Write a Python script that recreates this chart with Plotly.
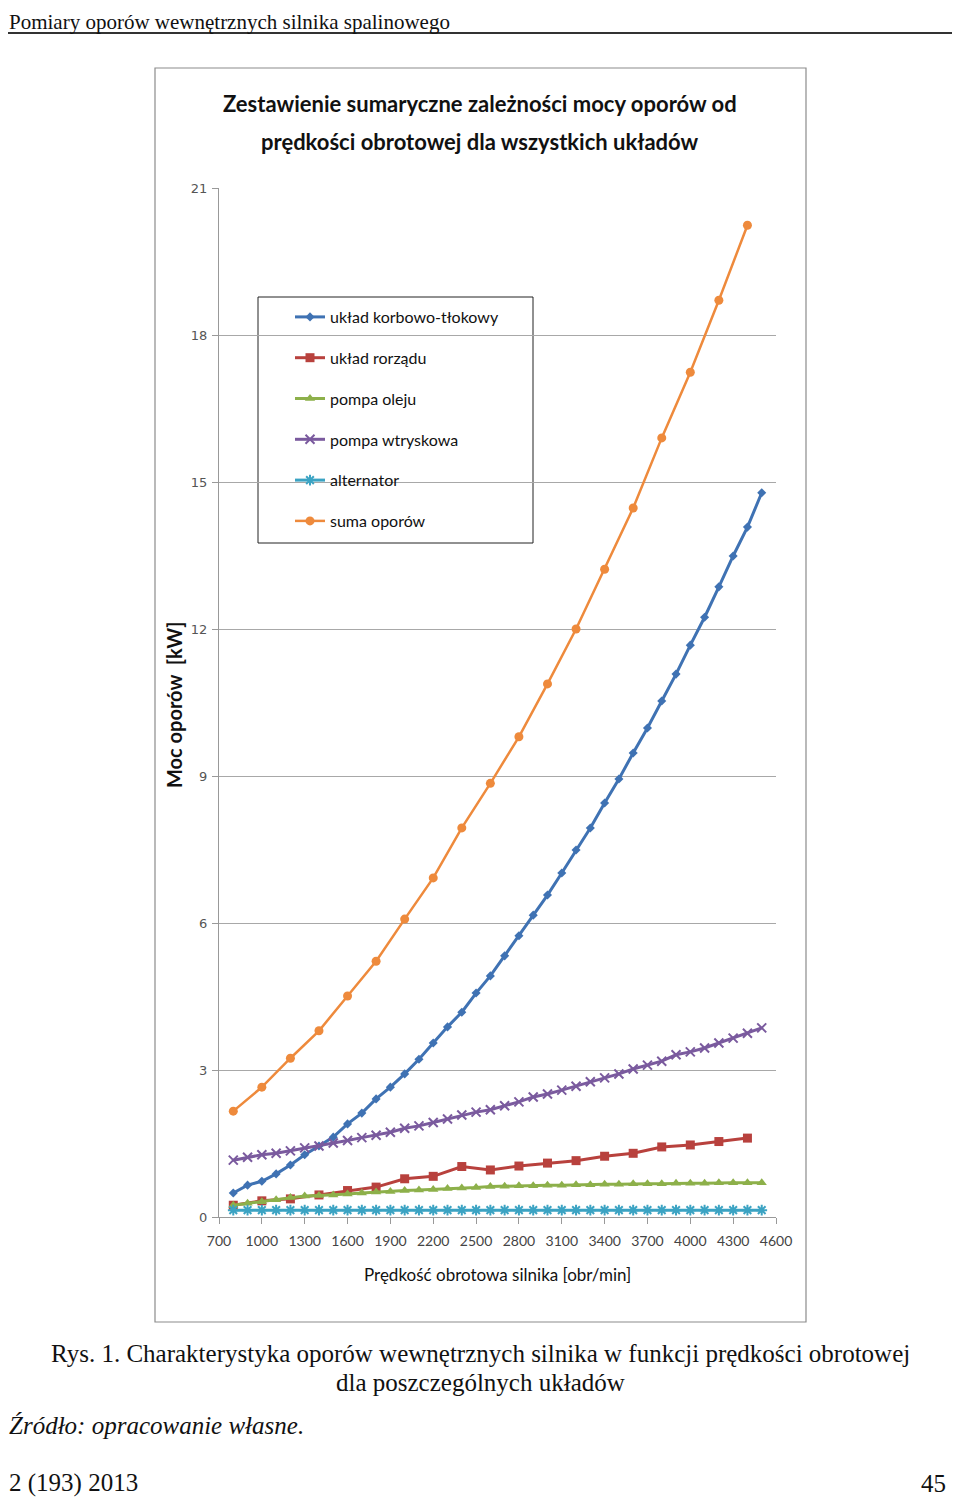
import plotly.graph_objects as go

# ---------------- data ----------------
rpm_100 = list(range(800, 4600, 100))   # 800..4500
rpm_200 = list(range(800, 4500, 200))   # 800..4400

korbowo = [0.49, 0.65, 0.73, 0.88, 1.06, 1.27, 1.45, 1.63, 1.90, 2.12,
           2.41, 2.65, 2.92, 3.22, 3.55, 3.88, 4.18, 4.57, 4.92, 5.33,
           5.74, 6.16, 6.57, 7.02, 7.49, 7.94, 8.45, 8.94, 9.47, 9.98,
           10.53, 11.08, 11.67, 12.24, 12.86, 13.49, 14.08, 14.78]
rozrzad = [0.24, 0.33, 0.37, 0.45, 0.54, 0.61, 0.78, 0.83, 1.03, 0.96,
           1.04, 1.10, 1.15, 1.24, 1.30, 1.43, 1.47, 1.54, 1.61]
olej = [0.24, 0.28, 0.31, 0.35, 0.40, 0.43, 0.44, 0.45, 0.47, 0.49,
        0.51, 0.52, 0.54, 0.55, 0.56, 0.58, 0.59, 0.60, 0.62, 0.63,
        0.64, 0.64, 0.65, 0.65, 0.66, 0.66, 0.67, 0.67, 0.68, 0.68,
        0.68, 0.69, 0.69, 0.69, 0.70, 0.70, 0.70, 0.70]
wtryskowa = [1.16, 1.22, 1.27, 1.30, 1.35, 1.41, 1.45, 1.51, 1.56, 1.62,
             1.67, 1.73, 1.81, 1.86, 1.93, 2.00, 2.08, 2.14, 2.19, 2.27,
             2.35, 2.45, 2.51, 2.59, 2.67, 2.76, 2.84, 2.92, 3.02, 3.10,
             3.18, 3.31, 3.37, 3.45, 3.55, 3.65, 3.75, 3.86]
alternator = [0.14] * 38
suma = [2.16, 2.65, 3.24, 3.80, 4.51, 5.22, 6.08, 6.92, 7.94, 8.85,
        9.80, 10.88, 12.00, 13.22, 14.47, 15.90, 17.24, 18.71, 20.24]

x_ticks = list(range(700, 4700, 300))
y_ticks = list(range(0, 22, 3))

names = ["układ korbowo-tłokowy", "układ rorządu", "pompa oleju",
         "pompa wtryskowa", "alternator", "suma oporów"]

# ---------------- geometry helpers (page pixels; body has 8px margin) ----------------
OFF = 8
W, H = 960 - OFF, 1498 - OFF
PL, PR, PT, PB = 219, 776, 188, 1217   # plot area in page pixels


def px(x):
    return (x - PL) / (PR - PL)


def py(y):
    return (PB - y) / (PB - PT)


fig = go.Figure()

series = [
    (rpm_100, korbowo, names[0], "#3F72B3", "diamond", 7, 3),
    (rpm_200, rozrzad, names[1], "#B8413D", "square", 9, 3),
    (rpm_100, olej, names[2], "#8DB04A", "triangle-up", 9, 3),
    (rpm_100, wtryskowa, names[3], "#7A5A9E", "x-thin-open", 9, 3),
    (rpm_100, alternator, names[4], "#3BA3C3", "asterisk-open", 9, 3),
    (rpm_200, suma, names[5], "#EE8A3C", "circle", 9, 2.5),
]
for i, (xs, ys, nm, col, sym, sz, lw) in enumerate(series):
    mk = dict(symbol=sym, size=sz, color=col)
    if sym.endswith("open"):
        mk["line"] = dict(color=col, width=2)
    fig.add_trace(go.Scatter(
        x=xs, y=ys, name=nm, mode="lines+markers",
        line=dict(color=col, width=lw), marker=mk,
        legendgroup=f"g{i}",
    ))

narrow = "Liberation Sans Narrow, Lato, sans-serif"
serif = "Liberation Serif, Times New Roman, serif"

fig.update_layout(
    width=W, height=H, autosize=False,
    margin=dict(l=PL - OFF, r=W - (PR - OFF), t=PT - OFF, b=H - (PB - OFF)),
    paper_bgcolor="white", plot_bgcolor="white",
    showlegend=True,
    legend=dict(
        x=px(290), y=py(300), xanchor="left", yanchor="top",
        bgcolor="rgba(0,0,0,0)", borderwidth=0,
        font=dict(family=narrow, size=16, color="#111"),
        tracegroupgap=17, itemwidth=30,
    ),
    xaxis=dict(
        range=[700, 4600], tickvals=x_ticks, ticktext=[str(v) for v in x_ticks],
        showgrid=False, zeroline=False,
        showline=True, linecolor="#999", linewidth=1,
        ticks="outside", ticklen=6, tickcolor="#999",
        ticklabelstandoff=5,
        tickfont=dict(family=narrow, size=14, color="#444"),
    ),
    yaxis=dict(
        range=[0, 21], tickvals=y_ticks,
        showgrid=True, gridcolor="#A8A8A8", gridwidth=1,
        zeroline=False, showline=True, linecolor="#999", linewidth=1,
        ticks="outside", ticklen=6, tickcolor="#999",
        ticklabelstandoff=2,
        tickfont=dict(family="DejaVu Sans, sans-serif", size=13, color="#555"),
    ),
)

shapes = [
    # page header rule
    dict(type="line", xref="paper", yref="paper", x0=px(5), x1=px(955),
         y0=py(33), y1=py(33), line=dict(color="#333", width=2)),
    # chart frame
    dict(type="rect", xref="paper", yref="paper", x0=px(155), x1=px(806),
         y0=py(1322), y1=py(68), line=dict(color="#8C8C8C", width=1.2)),
    # legend box
    dict(type="rect", xref="paper", yref="paper", x0=px(258), x1=px(533),
         y0=py(543), y1=py(297), line=dict(color="#222", width=1),
         fillcolor="white", layer="below"),
]
fig.update_layout(shapes=shapes)

anns = [
    dict(text="Pomiary oporów wewnętrznych silnika spalinowego", x=px(7), y=py(OFF),
         xanchor="left", yanchor="top", font=dict(family=serif, size=21, color="#111")),
    dict(text="<b>Zestawienie sumaryczne zależności mocy oporów od</b>",
         x=px(480), y=py(104), xanchor="center", yanchor="middle",
         font=dict(family=narrow, size=22, color="#111")),
    dict(text="<b>prędkości obrotowej dla wszystkich układów</b>",
         x=px(480), y=py(141), xanchor="center", yanchor="middle",
         font=dict(family=narrow, size=22, color="#111")),
    dict(text="<b>Moc oporów  [kW]</b>", x=px(174), y=py(705), textangle=-90,
         xanchor="center", yanchor="middle", font=dict(family=narrow, size=20, color="#111")),
    dict(text="Prędkość obrotowa silnika [obr/min]", x=px(497), y=py(1274),
         xanchor="center", yanchor="middle", font=dict(family=narrow, size=17, color="#111")),
    dict(text="Rys. 1. Charakterystyka oporów wewnętrznych silnika w funkcji prędkości obrotowej",
         x=px(480), y=py(1353), xanchor="center", yanchor="middle",
         font=dict(family=serif, size=25, color="#111")),
    dict(text="dla poszczególnych układów",
         x=px(480), y=py(1382), xanchor="center", yanchor="middle",
         font=dict(family=serif, size=25, color="#111")),
    dict(text="<i>Źródło: opracowanie własne.</i>", x=px(7), y=py(1425),
         xanchor="left", yanchor="middle", font=dict(family=serif, size=25, color="#111")),
    dict(text="2 (193) 2013", x=px(7), y=py(1483),
         xanchor="left", yanchor="middle", font=dict(family=serif, size=25, color="#111")),
    dict(text="45", x=px(948), y=py(1483),
         xanchor="right", yanchor="middle", font=dict(family=serif, size=25, color="#111")),
]
for a in anns:
    a.update(xref="paper", yref="paper", showarrow=False)
fig.update_layout(annotations=anns)

fig.write_html("out.html")
